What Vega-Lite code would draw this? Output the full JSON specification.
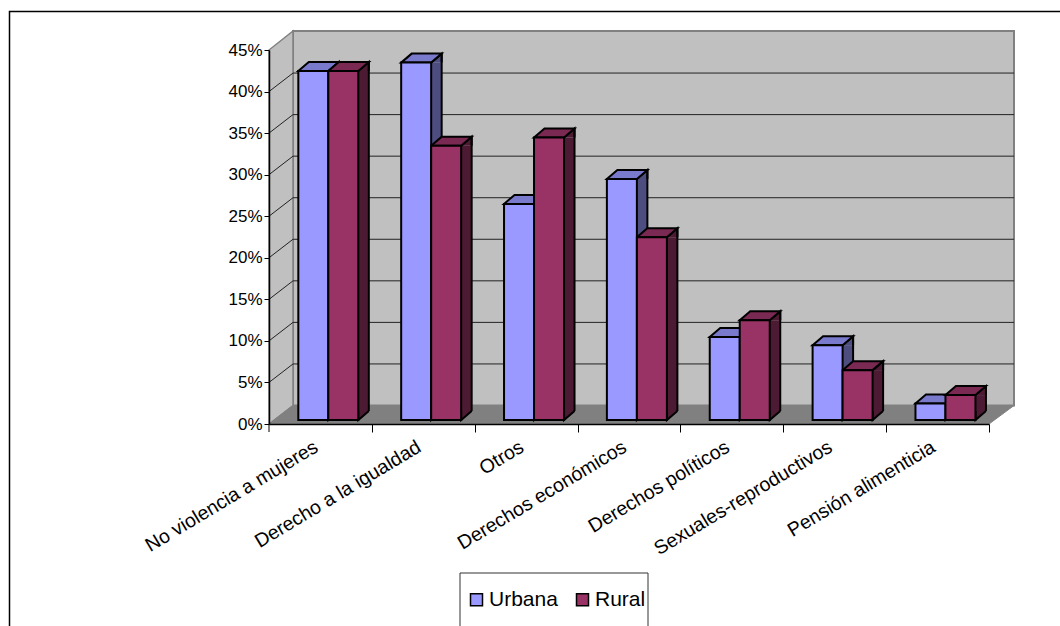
{
"$schema":"https://vega.github.io/schema/vega-lite/v6.json",
"width":720,"height":374,
"autosize":{"type":"none"},
"padding":{"left":269,"top":50,"right":71,"bottom":202},
"background":"white",
"config":{"view":{"stroke":null},"font":"Liberation Sans"},
"resolve":{"axis":{"y":"independent","x":"independent"}},
"layer":[
{"data":{"values":[{"v":0}]},"mark":{"type":"point","filled":true,"size":4,"fill":"white","stroke":"#000","strokeWidth":1.5,"opacity":1,"shape":"M-619.5,202 L-619.5,-412.5 L431,-412.5"},"encoding":{"y":{"field":"v","type":"quantitative","axis":null,"scale":{"domain":[0,0.45]}}}},
{"data":{"values":[{"v":0}]},"mark":{"type":"point","filled":true,"size":4,"fill":"#C0C0C0","stroke":"#808080","strokeWidth":2,"opacity":1,"shape":"M-336,-18.5 L385,-18.5 L385,-393 L-336,-393 Z"},"encoding":{"y":{"field":"v","type":"quantitative","axis":null}}},
{"data":{"values":[{"v":0}]},"mark":{"type":"point","filled":true,"size":4,"fill":"#C0C0C0","stroke":"#808080","strokeWidth":1.5,"opacity":1,"shape":"M-360,0 L-336,-18.5 L-336,-393 L-360,-374 Z"},"encoding":{"y":{"field":"v","type":"quantitative","axis":null}}},
{"data":{"values":[{"v":0}]},"mark":{"type":"point","filled":true,"size":4,"fill":"#808080","stroke":"#808080","strokeWidth":1,"opacity":1,"shape":"M-360,0 L-336,-18.5 L385,-18.5 L360,0 Z"},"encoding":{"y":{"field":"v","type":"quantitative","axis":null}}},
{"data":{"values":[{"tick":0.05},{"tick":0.1},{"tick":0.15},{"tick":0.2},{"tick":0.25},{"tick":0.3},{"tick":0.35},{"tick":0.4}]},"mark":{"type":"point","filled":false,"size":4,"stroke":"#222","strokeWidth":1,"opacity":1,"shape":"M-360,0 L-336,-18.5 L385,-18.5"},"encoding":{"y":{"field":"tick","type":"quantitative","axis":null}}},
{"data":{"values":[{"v":0}]},"mark":{"type":"point","filled":false,"size":4,"stroke":"#000","strokeWidth":1,"opacity":1,"shape":"M-360,0 L-360,8"},"encoding":{"y":{"field":"v","type":"quantitative","axis":null}}},
{"data":{"values":[
{"tema":"No violencia a mujeres","zona":"Urbana","valor":0.42},{"tema":"No violencia a mujeres","zona":"Rural","valor":0.42},
{"tema":"Derecho a la igualdad","zona":"Urbana","valor":0.43},{"tema":"Derecho a la igualdad","zona":"Rural","valor":0.33},
{"tema":"Otros","zona":"Urbana","valor":0.26},{"tema":"Otros","zona":"Rural","valor":0.34},
{"tema":"Derechos económicos","zona":"Urbana","valor":0.29},{"tema":"Derechos económicos","zona":"Rural","valor":0.22},
{"tema":"Derechos políticos","zona":"Urbana","valor":0.10},{"tema":"Derechos políticos","zona":"Rural","valor":0.12},
{"tema":"Sexuales-reproductivos","zona":"Urbana","valor":0.09},{"tema":"Sexuales-reproductivos","zona":"Rural","valor":0.06},
{"tema":"Pensión alimenticia","zona":"Urbana","valor":0.02},{"tema":"Pensión alimenticia","zona":"Rural","valor":0.03}
]},
"encoding":{
"x":{"field":"tema","type":"nominal","sort":null,"title":null,"scale":{"paddingInner":0.4167,"paddingOuter":0.2083,"align":0.684},
"axis":{"zindex":1,"tickOffset":43.5,"labelOffset":-56,"labelLimit":400,"labelAngle":-31,"labelAlign":"right","labelBaseline":"middle","labelFontSize":19.5,"labelFont":"Liberation Sans","labelColor":"#000","tickColor":"#000","domainColor":"#000","tickSize":8,"tickWidth":1,"domainWidth":1.5,"labelPadding":13}},
"y":{"field":"valor","type":"quantitative","title":null,"scale":{"domain":[0,0.45]},
"axis":{"zindex":1,"values":[0,0.05,0.1,0.15,0.2,0.25,0.3,0.35,0.4,0.45],"format":".0%","grid":false,"labelFontSize":17,"labelFont":"Liberation Sans","labelColor":"#000","tickColor":"#000","domainColor":"#000","tickSize":5,"tickWidth":1,"domainWidth":1.5,"labelPadding":2}}
},
"layer":[
{"transform":[{"filter":"datum.zona==='Urbana'"}],"mark":{"type":"bar","width":10.5,"xOffset":5.25,"yOffset":-4,"y2Offset":-13,"fill":"#4D4D80"},"encoding":{"y2":{"datum":0}}},
{"transform":[{"filter":"datum.zona==='Rural'"}],"mark":{"type":"bar","width":10.5,"xOffset":35.25,"yOffset":-4,"y2Offset":-13,"fill":"#4D1A33"},"encoding":{"y2":{"datum":0}}},
{"mark":{"type":"point","filled":true,"size":4,"opacity":1,"stroke":"#000","strokeWidth":2,"shape":"M15,-4 L25.5,-13 L25.5,-4"},"encoding":{"xOffset":{"field":"zona","type":"nominal","sort":["Urbana","Rural"]},"fill":{"condition":{"test":"datum.zona==='Urbana'","value":"#4D4D80"},"value":"#4D1A33"}}},
{"mark":{"type":"point","filled":true,"size":4,"opacity":1,"stroke":"#000","strokeWidth":2,"shape":"M15,-13 L15,-4 L25.5,-13"},"encoding":{"xOffset":{"field":"zona","type":"nominal","sort":["Urbana","Rural"]},"y":{"datum":0},"fill":{"condition":{"test":"datum.zona==='Urbana'","value":"#4D4D80"},"value":"#4D1A33"}}},
{"transform":[{"filter":"datum.zona==='Urbana'"}],"mark":{"type":"rule","stroke":"#000","strokeWidth":2,"xOffset":10.5,"yOffset":-13,"y2Offset":-13},"encoding":{"y2":{"datum":0}}},
{"transform":[{"filter":"datum.zona==='Rural'"}],"mark":{"type":"rule","stroke":"#000","strokeWidth":2,"xOffset":40.5,"yOffset":-13,"y2Offset":-13},"encoding":{"y2":{"datum":0}}},
{"mark":{"type":"point","filled":true,"size":4,"opacity":1,"stroke":"#000","strokeWidth":2,"shape":"M-15,-4 L15,-4 L25.5,-13 L-4.5,-13 Z"},"encoding":{"xOffset":{"field":"zona","type":"nominal","sort":["Urbana","Rural"]},"fill":{"condition":{"test":"datum.zona==='Urbana'","value":"#7A7ACC"},"value":"#7A2952"}}},
{"mark":{"type":"bar","stroke":"#000","strokeWidth":2,"yOffset":-4,"y2Offset":-4},"encoding":{"xOffset":{"field":"zona","type":"nominal","sort":["Urbana","Rural"]},"y2":{"datum":0},"fill":{"field":"zona","type":"nominal","sort":["Urbana","Rural"],"scale":{"domain":["Urbana","Rural"],"range":["#9999FF","#993366"]},
"legend":{"title":null,"orient":"none","direction":"horizontal","legendX":197,"legendY":539,"symbolType":"square","symbolSize":144,"symbolStrokeColor":"#000","symbolStrokeWidth":1.5,"labelFontSize":21,"labelFont":"Liberation Sans","labelColor":"#000","labelOffset":2,"columnPadding":14,"padding":0}}}}
]},
{"data":{"values":[{"v":0}]},"mark":{"type":"point","filled":false,"size":4,"stroke":"#333","strokeWidth":1,"opacity":1,"shape":"M-169,203 L-169,149 L19,149 L19,203"},"encoding":{"y":{"field":"v","type":"quantitative","axis":null}}}
]
}
